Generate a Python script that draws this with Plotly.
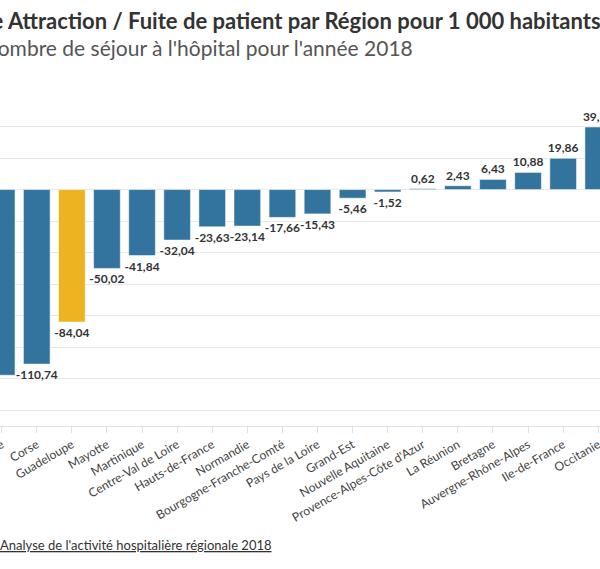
import plotly.graph_objects as go

regions = ["Guyane", "Corse", "Guadeloupe", "Mayotte", "Martinique", "Centre-Val de Loire",
           "Hauts-de-France", "Normandie", "Bourgogne-Franche-Comté", "Pays de la Loire",
           "Grand-Est", "Nouvelle Aquitaine", "Provence-Alpes-Côte d'Azur", "La Réunion",
           "Bretagne", "Auvergne-Rhône-Alpes", "Ile-de-France", "Occitanie"]
values = [-117.8, -110.74, -84.04, -50.02, -41.84, -32.04, -23.63, -23.14, -17.66, -15.43,
          -5.46, -1.52, 0.62, 2.43, 6.43, 10.88, 19.86, 39.7]
labels = ["", "-110,74", "-84,04", "-50,02", "-41,84", "-32,04", "-23,63", "-23,14", "-17,66",
          "-15,43", "-5,46", "-1,52", "0,62", "2,43", "6,43", "10,88", "19,86", "39,70"]
highlight = "Guadeloupe"

BLUE = "#33749f"
YELLOW = "#edb421"
colors = [YELLOW if r == highlight else BLUE for r in regions]

W, H = 600, 569
TOP, BOTTOM = 95, 426

def py(p):
    return (BOTTOM - p) / (BOTTOM - TOP)

fig = go.Figure(go.Bar(
    x=regions, y=values, text=labels, textposition="outside", constraintext="none",
    marker=dict(color=colors, line=dict(color="rgba(255,255,255,0.5)", width=1)),
    textfont=dict(family="Lato", size=12, color="#333333", weight="bold"),
    cliponaxis=True, hoverinfo="skip",
))

fig.update_layout(
    width=W, height=H,
    margin=dict(l=0, r=0, t=TOP, b=H - BOTTOM, pad=0, autoexpand=False),
    plot_bgcolor="white", paper_bgcolor="white",
    bargap=0.24, showlegend=False,
    font=dict(family="Lato", color="#333333"),
    xaxis=dict(range=[-0.048, 17.05], tickangle=-30, showgrid=False, automargin=False,
               showline=True, linecolor="#e2e2e2", linewidth=1,
               ticks="outside", ticklen=6, tickcolor="#e2e2e2",
               tickfont=dict(family="Lato", size=12.2, color="#444444")),
    yaxis=dict(range=[-150, 60], dtick=20, showgrid=True, gridcolor="#e8e8e8", automargin=False,
               zeroline=True, zerolinecolor="#e8e8e8", zerolinewidth=1,
               showticklabels=False),
    annotations=[
        dict(text="<b>Solde Attraction / Fuite de patient par Région pour 1 000 habitants</b>",
             xref="paper", yref="paper", x=603 / W, y=py(20), xanchor="right", yanchor="middle",
             showarrow=False, font=dict(family="Lato", size=22, color="#333333")),
        dict(text="Nombre de séjour à l'hôpital pour l'année 2018",
             xref="paper", yref="paper", x=415 / W, y=py(47), xanchor="right", yanchor="middle",
             showarrow=False, font=dict(family="Lato", size=21, color="#555555")),
        dict(text="<u>Analyse de l'activité hospitalière régionale 2018</u>",
             xref="paper", yref="paper", x=-2 / W, y=py(545), xanchor="left", yanchor="middle",
             showarrow=False, font=dict(family="Lato", size=13, color="#333333")),
    ],
)

fig.write_html("out.html", config={"displayModeBar": False},
               post_script="document.body.style.margin='0';document.body.style.overflow='hidden';")
